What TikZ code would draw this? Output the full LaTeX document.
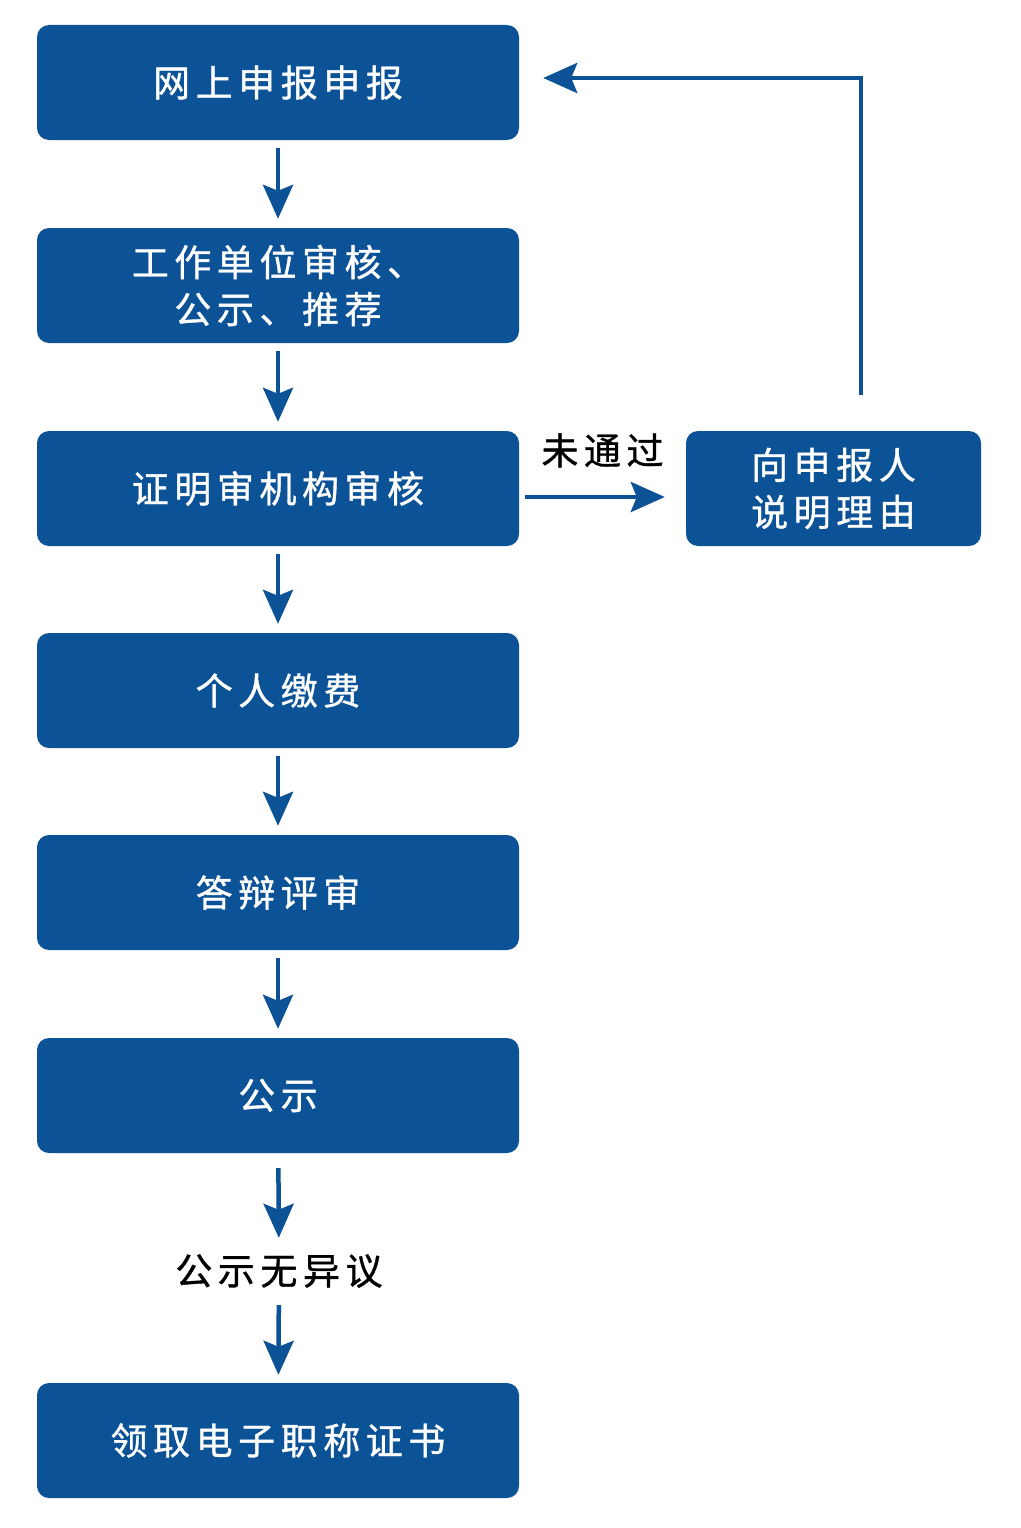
\documentclass[tikz,border=0pt]{standalone}
\usepackage{fontspec}
\usepackage{xcolor}
\usepackage{tikz}
\usetikzlibrary{arrows.meta,calc,positioning}
\newfontfamily\cjk[LetterSpace=15,FakeBold=1]{Noto Sans CJK SC}
\definecolor{cfblue}{RGB}{12,82,150}

\begin{document}
\begin{tikzpicture}[x=1pt,y=-1pt,>={Stealth[length=34pt,width=30pt,inset=6pt]},
  font=\cjk\fontsize{37}{47}\selectfont,
  box/.style={fill=cfblue,rounded corners=12pt,text=white,align=center,
    minimum width=482pt,minimum height=115pt,inner sep=0pt},
  flow/.style={->,draw=cfblue,line width=4.5pt}]
\useasboundingbox (0,0) rectangle (1020,1528);
% main column
\node[box] (b1) at (278,82.5) {网上申报申报};
\node[box] (b2) at (278,285.5) {工作单位审核、\\公示、推荐};
\node[box] (b3) at (278,488.5) {证明审机构审核};
\node[box] (b4) at (278,690.5) {个人缴费};
\node[box] (b5) at (278,892.5) {答辩评审};
\node[box] (b6) at (278,1095.5) {公示};
\node[inner sep=0pt,minimum height=60pt] (ok) at (279,1271) {公示无异议};
\node[box] (b8) at (278,1440.5) {领取电子职称证书};
% side branch
\node[box,minimum width=295pt] (back) at (833.5,488.5) {向申报人\\说明理由};
\coordinate (fb) at (861,395);
\foreach \a/\b in {b1/b2,b2/b3,b3/b4,b4/b5,b5/b6}{
  \draw[flow,shorten <=8pt,shorten >=9pt] (\a) -- (\b);}
\draw[flow,shorten <=15pt,shorten >=3pt] (b6) -- (ok);
\draw[flow,shorten <=4pt,shorten >=8pt] (ok) -- (b8);
\draw[flow,shorten <=6pt,shorten >=21pt] ([yshift=-8.5pt]b3.east) -- ([yshift=-8.5pt]back.west)
  node[midway,above=24pt,text=black] {未通过};
\draw[flow,shorten >=24pt] (fb) |- ([yshift=4.5pt]b1.east);
\end{tikzpicture}
\end{document}
